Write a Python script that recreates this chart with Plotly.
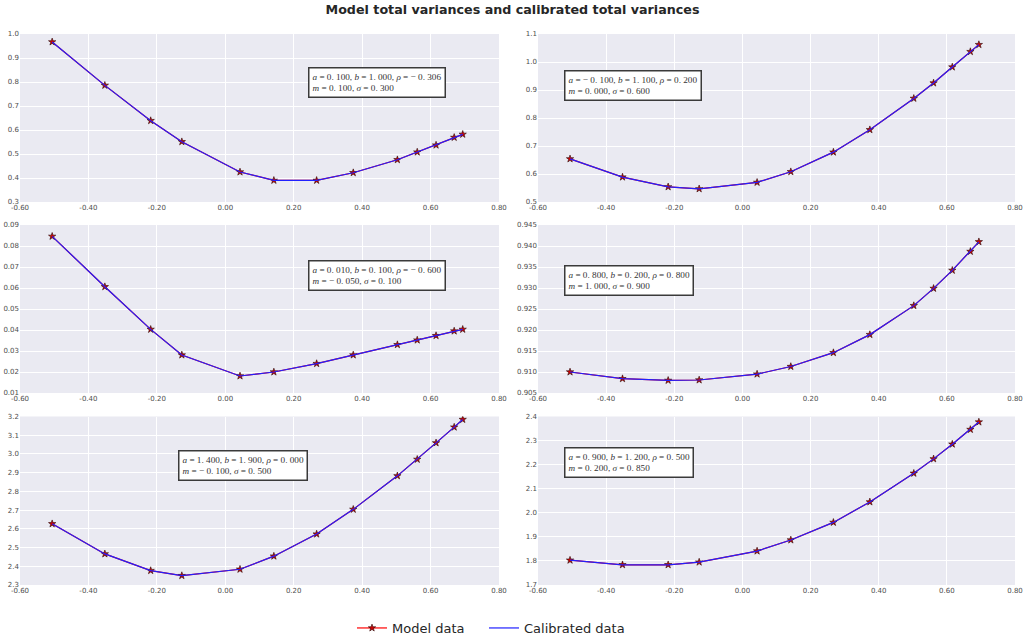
import plotly.graph_objects as go

# ---------------- data ----------------
log_moneyness = [-0.506, -0.352, -0.218, -0.127, 0.043, 0.142, 0.267, 0.374, 0.503, 0.561, 0.616, 0.669, 0.694]

model_1 = [0.967, 0.786, 0.639, 0.551, 0.425, 0.390, 0.390, 0.422, 0.476, 0.508, 0.537, 0.569, 0.582]
calib_1 = [0.967, 0.786, 0.639, 0.551, 0.425, 0.390, 0.390, 0.422, 0.476, 0.508, 0.537, 0.569, 0.582]

model_2 = [0.654, 0.589, 0.554, 0.547, 0.570, 0.608, 0.678, 0.758, 0.870, 0.925, 0.982, 1.037, 1.062]
calib_2 = [0.654, 0.589, 0.554, 0.547, 0.570, 0.608, 0.678, 0.758, 0.870, 0.925, 0.982, 1.037, 1.062]

model_3 = [0.0846, 0.0606, 0.0403, 0.0281, 0.0181, 0.0200, 0.0240, 0.0281, 0.0330, 0.0352, 0.0373, 0.0395, 0.0403]
calib_3 = [0.0846, 0.0606, 0.0403, 0.0281, 0.0181, 0.0200, 0.0240, 0.0281, 0.0330, 0.0352, 0.0373, 0.0395, 0.0403]

model_4 = [0.9100, 0.9084, 0.9080, 0.9081, 0.9095, 0.9113, 0.9146, 0.9189, 0.9258, 0.9299, 0.9342, 0.9387, 0.9410]
calib_4 = [0.9100, 0.9084, 0.9080, 0.9081, 0.9095, 0.9113, 0.9146, 0.9189, 0.9258, 0.9299, 0.9342, 0.9387, 0.9410]

model_5 = [2.627, 2.466, 2.377, 2.350, 2.384, 2.454, 2.572, 2.704, 2.883, 2.971, 3.059, 3.143, 3.184]
calib_5 = [2.627, 2.466, 2.377, 2.350, 2.384, 2.454, 2.572, 2.704, 2.883, 2.971, 3.059, 3.143, 3.184]

model_6 = [1.803, 1.784, 1.784, 1.795, 1.841, 1.887, 1.960, 2.045, 2.164, 2.224, 2.285, 2.346, 2.377]
calib_6 = [1.803, 1.784, 1.784, 1.795, 1.841, 1.887, 1.960, 2.045, 2.164, 2.224, 2.285, 2.346, 2.377]

x_tick_vals = [-0.6, -0.4, -0.2, 0.0, 0.2, 0.4, 0.6, 0.8]
x_tick_text = ["-0.60", "-0.40", "-0.20", "0.00", "0.20", "0.40", "0.60", "0.80"]

y_ticks_1 = [0.3, 0.4, 0.5, 0.6, 0.7, 0.8, 0.9, 1.0]
y_text_1 = ["0.3", "0.4", "0.5", "0.6", "0.7", "0.8", "0.9", "1.0"]
y_ticks_2 = [0.5, 0.6, 0.7, 0.8, 0.9, 1.0, 1.1]
y_text_2 = ["0.5", "0.6", "0.7", "0.8", "0.9", "1.0", "1.1"]
y_ticks_3 = [0.01, 0.02, 0.03, 0.04, 0.05, 0.06, 0.07, 0.08, 0.09]
y_text_3 = ["0.01", "0.02", "0.03", "0.04", "0.05", "0.06", "0.07", "0.08", "0.09"]
y_ticks_4 = [0.905, 0.910, 0.915, 0.920, 0.925, 0.930, 0.935, 0.940, 0.945]
y_text_4 = ["0.905", "0.910", "0.915", "0.920", "0.925", "0.930", "0.935", "0.940", "0.945"]
y_ticks_5 = [2.3, 2.4, 2.5, 2.6, 2.7, 2.8, 2.9, 3.0, 3.1, 3.2]
y_text_5 = ["2.3", "2.4", "2.5", "2.6", "2.7", "2.8", "2.9", "3.0", "3.1", "3.2"]
y_ticks_6 = [1.7, 1.8, 1.9, 2.0, 2.1, 2.2, 2.3, 2.4]
y_text_6 = ["1.7", "1.8", "1.9", "2.0", "2.1", "2.2", "2.3", "2.4"]

param_text_1 = "<i>a</i> = 0. 100, <i>b</i> = 1. 000, <i>ρ</i> = − 0. 306<br><i>m</i> = 0. 100, <i>σ</i> = 0. 300"
param_text_2 = "<i>a</i> = − 0. 100, <i>b</i> = 1. 100, <i>ρ</i> = 0. 200<br><i>m</i> = 0. 000, <i>σ</i> = 0. 600"
param_text_3 = "<i>a</i> = 0. 010, <i>b</i> = 0. 100, <i>ρ</i> = − 0. 600<br><i>m</i> = − 0. 050, <i>σ</i> = 0. 100"
param_text_4 = "<i>a</i> = 0. 800, <i>b</i> = 0. 200, <i>ρ</i> = 0. 800<br><i>m</i> = 1. 000, <i>σ</i> = 0. 900"
param_text_5 = "<i>a</i> = 1. 400, <i>b</i> = 1. 900, <i>ρ</i> = 0. 000<br><i>m</i> = − 0. 100, <i>σ</i> = 0. 500"
param_text_6 = "<i>a</i> = 0. 900, <i>b</i> = 1. 200, <i>ρ</i> = 0. 500<br><i>m</i> = 0. 200, <i>σ</i> = 0. 850"

# ---------------- layout geometry (pixels) ----------------
W, H = 1025, 643
col_px = [(20, 499), (538, 1015)]
row_px = [(34, 202), (225, 393), (416.5, 585)]

panels = [
    (0, 0, model_1, calib_1, y_ticks_1, y_text_1, param_text_1, (308, 67)),
    (0, 1, model_2, calib_2, y_ticks_2, y_text_2, param_text_2, (564, 70)),
    (1, 0, model_3, calib_3, y_ticks_3, y_text_3, param_text_3, (308, 260)),
    (1, 1, model_4, calib_4, y_ticks_4, y_text_4, param_text_4, (564, 265)),
    (2, 0, model_5, calib_5, y_ticks_5, y_text_5, param_text_5, (178, 450)),
    (2, 1, model_6, calib_6, y_ticks_6, y_text_6, param_text_6, (564, 447)),
]

fig = go.Figure()
layout = {}
annotations = []
tick_font = dict(family="DejaVu Sans", size=7, color="#4d4d4d")

for i, (r, c, model, calib, yt, ytt, ptxt, box) in enumerate(panels):
    idx = i + 1
    xa = "x" if idx == 1 else f"x{idx}"
    ya = "y" if idx == 1 else f"y{idx}"
    xkey = "xaxis" if idx == 1 else f"xaxis{idx}"
    ykey = "yaxis" if idx == 1 else f"yaxis{idx}"
    x0, x1 = col_px[c]
    t0, t1 = row_px[r]
    layout[xkey] = dict(
        domain=[x0 / W, x1 / W], anchor=ya, range=[-0.6, 0.8],
        tickvals=x_tick_vals, ticktext=x_tick_text, showgrid=True,
        gridcolor="white", gridwidth=1, zeroline=False, showline=False,
        ticks="", tickfont=tick_font, automargin=False, fixedrange=True,
    )
    layout[ykey] = dict(
        domain=[1 - t1 / H, 1 - t0 / H], anchor=xa, range=[yt[0], yt[-1]],
        tickvals=yt, ticktext=ytt, showgrid=True, gridcolor="white",
        gridwidth=1, zeroline=False, showline=False, ticks="",
        tickfont=tick_font, automargin=False, fixedrange=True,
    )
    fig.add_trace(go.Scatter(
        x=log_moneyness, y=model, mode="lines+markers", name="Model data",
        line=dict(color="red", width=1.2),
        marker=dict(symbol="star", size=5.5, color="#d00000",
                    line=dict(color="#2a0a0a", width=0.6)),
        xaxis=xa, yaxis=ya, showlegend=(idx == 1), legend="legend",
    ))
    fig.add_trace(go.Scatter(
        x=log_moneyness, y=calib, mode="lines", name="Calibrated data",
        line=dict(color="#2020ff", width=1.2),
        xaxis=xa, yaxis=ya, showlegend=(idx == 1), legend="legend2",
    ))
    annotations.append(dict(
        x=box[0] / W, y=1 - box[1] / H, xref="paper", yref="paper",
        xanchor="left", yanchor="top", align="left", showarrow=False,
        text=ptxt, font=dict(family="Liberation Serif", size=9.2, color="#333333"),
        bgcolor="white", bordercolor="#3a3a3a", borderwidth=1.5, borderpad=3,
    ))

legend_font = dict(family="DejaVu Sans", size=13, color="#262626")
fig.update_layout(
    **layout,
    annotations=annotations,
    width=W, height=H,
    margin=dict(l=0, r=0, t=0, b=0),
    paper_bgcolor="white",
    plot_bgcolor="#EAEAF2",
    title=dict(
        text="<b>Model total variances and calibrated total variances</b>",
        x=0.5, xanchor="center", y=1 - 10 / H, yanchor="middle",
        font=dict(family="DejaVu Sans", size=12.7, color="#262626"),
    ),
    legend=dict(
        orientation="h", x=352 / W, xanchor="left", y=1 - 628 / H,
        yanchor="middle", font=legend_font, bgcolor="rgba(0,0,0,0)", itemwidth=30,
    ),
    legend2=dict(
        orientation="h", x=484 / W, xanchor="left", y=1 - 628 / H,
        yanchor="middle", font=legend_font, bgcolor="rgba(0,0,0,0)", itemwidth=30,
    ),
    showlegend=True,
)

fig.write_html(
    "out.html",
    config={"displayModeBar": False},
    post_script="document.body.style.margin='0';document.body.style.overflow='hidden';",
)
